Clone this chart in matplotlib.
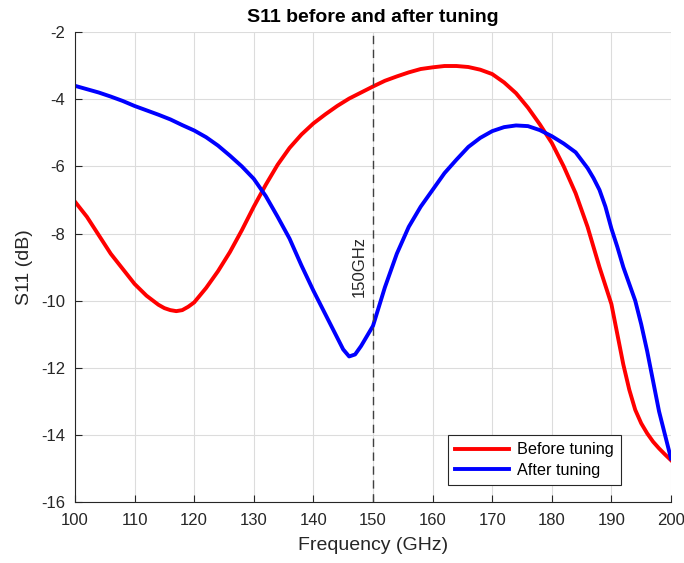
import numpy as np
import matplotlib.pyplot as plt

plt.rcParams['font.family'] = ['Liberation Sans', 'DejaVu Sans']
plt.rcParams['axes.unicode_minus'] = False

# frequency grid (GHz) and S11 readings (dB)
freq_before = [100, 102, 104, 106, 108, 110, 112, 114, 115, 116, 117, 118, 119, 120, 122, 124,
               126, 128, 130, 132, 134, 136, 138, 140, 142, 144, 146, 148, 150, 152, 154, 156,
               158, 160, 162, 164, 166, 168, 170, 172, 174, 176, 178, 180, 182, 184, 186, 187,
               188, 189, 190, 191, 192, 193, 194, 195, 196, 197, 198, 199, 200]
s11_before = [-7.05, -7.5, -8.05, -8.6, -9.05, -9.5, -9.85, -10.12, -10.22, -10.28, -10.31,
              -10.28, -10.18, -10.05, -9.62, -9.12, -8.55, -7.9, -7.2, -6.55, -5.95, -5.45,
              -5.05, -4.72, -4.45, -4.2, -3.98, -3.8, -3.62, -3.45, -3.32, -3.2, -3.1, -3.05,
              -3.01, -3.01, -3.04, -3.12, -3.25, -3.5, -3.82, -4.25, -4.75, -5.3, -6.0, -6.8,
              -7.8, -8.4, -9.0, -9.55, -10.1, -11.0, -11.9, -12.65, -13.25, -13.65, -13.95,
              -14.2, -14.4, -14.58, -14.75]

freq_after = [100, 102, 104, 106, 108, 110, 112, 114, 116, 118, 120, 122, 124, 126, 128, 130,
              132, 134, 136, 138, 140, 142, 144, 145, 146, 147, 148, 150, 152, 154, 156, 158,
              160, 162, 164, 166, 168, 170, 172, 174, 176, 178, 180, 182, 184, 186, 187, 188,
              189, 190, 191, 192, 193, 194, 195, 196, 197, 198, 199, 200]
s11_after = [-3.6, -3.7, -3.8, -3.92, -4.05, -4.2, -4.33, -4.46, -4.6, -4.77, -4.93, -5.13,
             -5.38, -5.68, -6.0, -6.37, -6.88, -7.5, -8.15, -8.95, -9.7, -10.4, -11.1, -11.45,
             -11.66, -11.6, -11.35, -10.75, -9.6, -8.6, -7.8, -7.2, -6.7, -6.2, -5.8, -5.42,
             -5.15, -4.95, -4.83, -4.78, -4.8, -4.92, -5.1, -5.32, -5.58, -6.05, -6.35, -6.7,
             -7.2, -7.85, -8.4, -9.0, -9.5, -10.0, -10.7, -11.5, -12.4, -13.3, -14.0, -14.7]

marker_freq = 150

fig = plt.figure(figsize=(6.84, 5.63), dpi=100)
ax = fig.add_axes([0.1096, 0.108, 0.8714, 0.835])

ax.plot(freq_before, s11_before, color='red', lw=2.8, label='Before tuning',
        solid_joinstyle='round')
ax.plot(freq_after, s11_after, color='blue', lw=2.8, label='After tuning',
        solid_joinstyle='round')

ax.axvline(marker_freq, color='#404040', lw=1, linestyle=(0, (6, 4)))
ax.text(marker_freq - 1.0, -8.98, '150GHz', rotation=90, ha='right', va='center',
        fontsize=12, color='#262626')

ax.set_xlim(100, 200)
ax.set_ylim(-16, -2)
ax.set_xticks(np.arange(100, 201, 10))
ax.set_yticks(np.arange(-16, -1, 2))
ax.grid(True, color='#dcdcdc', lw=0.8)
ax.set_axisbelow(True)

for side in ['top', 'right']:
    ax.spines[side].set_visible(False)
for side in ['left', 'bottom']:
    ax.spines[side].set_color('#262626')
ax.tick_params(direction='in', length=5, labelsize=12, colors='#262626')
ax.tick_params(axis='x', pad=8)
ax.tick_params(axis='y', pad=7)

ax.set_xlabel('Frequency (GHz)', fontsize=14, color='#262626', labelpad=6)
ax.set_ylabel('S11 (dB)', fontsize=14, color='#262626', labelpad=6)
ax.set_title('S11 before and after tuning', fontsize=14, fontweight='bold', pad=7)

leg = ax.legend(loc='lower left', bbox_to_anchor=(0.626, 0.036), fontsize=11.7,
                fancybox=False, framealpha=1, edgecolor='#262626', handlelength=3.3,
                borderpad=0.45, labelspacing=0.35, handletextpad=0.5, borderaxespad=0)
leg.get_frame().set_linewidth(0.8)

fig.savefig('out.png', dpi=100)
